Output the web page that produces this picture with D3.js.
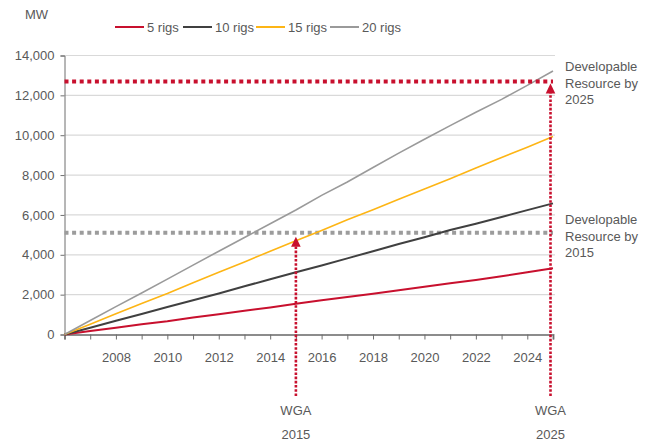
<!DOCTYPE html>
<html>
<head>
<meta charset="utf-8">
<script src="https://cdn.jsdelivr.net/npm/d3@7"></script>
<style>
  html, body { margin: 0; padding: 0; background: #fff; }
  svg { display: block; font-family: "Liberation Sans", Arial, sans-serif; }
  text { fill: #595959; }
</style>
</head>
<body>
<svg id="chart" width="656" height="445"></svg>
<script>
// Cumulative geothermal capacity (MW) by drilling scenario
const years = [2006, 2007, 2008, 2009, 2010, 2011, 2012, 2013, 2014, 2015,
               2016, 2017, 2018, 2019, 2020, 2021, 2022, 2023, 2024, 2025];
const rigs5  = [0, 170, 340, 510, 660, 850, 1020, 1190, 1360, 1540,
                1720, 1880, 2040, 2220, 2400, 2570, 2740, 2920, 3120, 3320];
const rigs10 = [0, 340, 690, 1030, 1380, 1720, 2060, 2420, 2770, 3120,
                3460, 3820, 4180, 4540, 4880, 5240, 5560, 5900, 6240, 6580];
const rigs15 = [0, 520, 1040, 1560, 2060, 2600, 3120, 3640, 4180, 4700,
                5220, 5760, 6260, 6790, 7300, 7820, 8360, 8880, 9400, 9930];
const rigs20 = [0, 700, 1400, 2080, 2780, 3480, 4180, 4870, 5560, 6250,
                6980, 7650, 8380, 9100, 9800, 10480, 11150, 11800, 12500, 13220];

const seriesNames = ["5 rigs", "10 rigs", "15 rigs", "20 rigs"];
const seriesValues = [rigs5, rigs10, rigs15, rigs20];
const seriesColors = ["#c8102e", "#404040", "#fdb515", "#9a9a9a"];
const seriesWidths = [2, 2, 1.6, 1.6];

const yTicks = [0, 2000, 4000, 6000, 8000, 10000, 12000, 14000];
const xLabelYears = [2008, 2010, 2012, 2014, 2016, 2018, 2020, 2022, 2024];

// Developable resource targets and the WGA years they refer to
const resource2025 = 12700;
const resource2015 = 5100;
const wgaYears = [2015, 2025];
const wgaTargets = [5000, 12700];

const svg = d3.select("#chart");
const x = d3.scaleLinear().domain([2006, 2025]).range([64.5, 553]);
const y = d3.scaleLinear().domain([0, 14000]).range([334.5, 55.5]);
const plotRight = 555;

// horizontal gridlines
svg.append("g").selectAll("line")
  .data(yTicks.filter(d => d > 0))
  .join("line")
  .attr("x1", x(2006)).attr("x2", plotRight)
  .attr("y1", d => y(d)).attr("y2", d => y(d))
  .attr("stroke", "#d9d9d9").attr("stroke-width", 1.2);

// y axis
const yAxis = svg.append("g")
  .attr("transform", `translate(${x(2006)},0)`)
  .call(d3.axisLeft(y).tickValues(yTicks).tickSize(4).tickPadding(6).tickFormat(d3.format(",")));
yAxis.select(".domain").attr("stroke", "#6e6e6e");
yAxis.selectAll(".tick line").attr("stroke", "#6e6e6e");
yAxis.selectAll("text").attr("font-size", 13).attr("fill", "#595959")
  .attr("font-family", "Liberation Sans, Arial, sans-serif");

// x axis
const xAxis = svg.append("g")
  .attr("transform", `translate(0,${y(0)})`)
  .call(d3.axisBottom(x).tickValues(years).tickSize(5).tickPadding(13)
    .tickFormat(d => xLabelYears.includes(d) ? String(d) : ""));
xAxis.select(".domain").attr("stroke", "#8c8c8c").attr("stroke-width", 2);
xAxis.selectAll(".tick line").attr("stroke", "#6e6e6e");
xAxis.selectAll("text").attr("font-size", 13).attr("fill", "#595959")
  .attr("font-family", "Liberation Sans, Arial, sans-serif");

// dotted resource levels
svg.append("line")
  .attr("x1", x(2006)).attr("x2", x(2025))
  .attr("y1", y(resource2015)).attr("y2", y(resource2015))
  .attr("stroke", "#9c9c9c").attr("stroke-width", 4)
  .attr("stroke-dasharray", "4,3.6");

// scenario lines
const line = d3.line().x((d, i) => x(years[i])).y(d => y(d));
seriesValues.forEach((vals, k) => {
  svg.append("path")
    .datum(vals)
    .attr("fill", "none")
    .attr("stroke", seriesColors[k])
    .attr("stroke-width", seriesWidths[k])
    .attr("d", line);
});

svg.append("line")
  .attr("x1", x(2006)).attr("x2", x(2025))
  .attr("y1", y(resource2025)).attr("y2", y(resource2025))
  .attr("stroke", "#c8102e").attr("stroke-width", 4)
  .attr("stroke-dasharray", "4,3.6");

// WGA markers: dotted vertical with arrowhead
wgaYears.forEach((yr, i) => {
  const cx = x(yr) - (i === 1 ? 2.5 : 0);
  const tip = y(wgaTargets[i]) + 2;
  svg.append("line")
    .attr("x1", cx).attr("x2", cx)
    .attr("y1", 396).attr("y2", tip + 8)
    .attr("stroke", "#c8102e").attr("stroke-width", 2.6)
    .attr("stroke-dasharray", "2.6,1.6");
  svg.append("path")
    .attr("d", `M${cx},${tip} L${cx - 4.8},${tip + 10} L${cx + 4.8},${tip + 10} Z`)
    .attr("fill", "#c8102e");
  svg.append("text")
    .attr("x", cx).attr("y", 415)
    .attr("text-anchor", "middle").attr("font-size", 13)
    .text("WGA");
  svg.append("text")
    .attr("x", cx).attr("y", 439)
    .attr("text-anchor", "middle").attr("font-size", 13)
    .text(String(yr));
});

// right-hand annotations
function note(lines, yTop) {
  const t = svg.append("text").attr("x", 565).attr("y", yTop).attr("font-size", 13);
  lines.forEach((s, i) => t.append("tspan").attr("x", 565).attr("dy", i ? 16.5 : 0).text(s));
}
note(["Developable", "Resource by", "2025"], 71);
note(["Developable", "Resource by", "2015"], 224);

// unit label
svg.append("text").attr("x", 25).attr("y", 19).attr("font-size", 13).text("MW");

// legend
const legendX = [115, 183, 256, 330];
seriesNames.forEach((name, k) => {
  const g = svg.append("g").attr("transform", `translate(${legendX[k]},27)`);
  g.append("line").attr("x1", 0).attr("x2", 29).attr("y1", 0).attr("y2", 0)
    .attr("stroke", seriesColors[k]).attr("stroke-width", 2);
  g.append("text").attr("x", 32).attr("y", 4.5).attr("font-size", 13).text(name);
});
</script>
</body>
</html>
